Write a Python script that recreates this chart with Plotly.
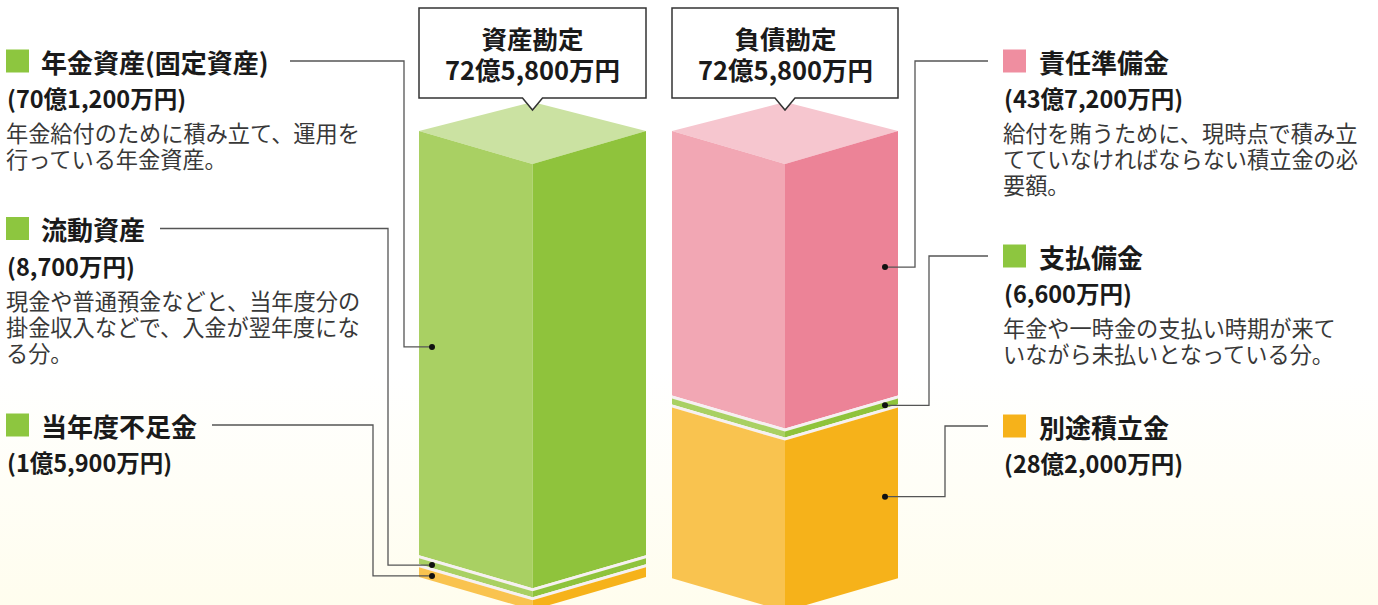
import plotly.graph_objects as go

# ---------------- data (億円) ----------------
column_titles = ["資産勘定", "負債勘定"]
column_totals = ["72億5,800万円", "72億5,800万円"]

asset_titles = ["年金資産(固定資産)", "流動資産", "当年度不足金"]
asset_amounts = ["(70億1,200万円)", "(8,700万円)", "(1億5,900万円)"]
asset_values = [70.12, 0.87, 1.59]
asset_notes = [
    ["年金給付のために積み立て、運用を", "行っている年金資産。"],
    ["現金や普通預金などと、当年度分の", "掛金収入などで、入金が翌年度にな", "る分。"],
    [],
]

liability_titles = ["責任準備金", "支払備金", "別途積立金"]
liability_amounts = ["(43億7,200万円)", "(6,600万円)", "(28億2,000万円)"]
liability_values = [43.72, 0.66, 28.20]
liability_notes = [
    ["給付を賄うために、現時点で積み立", "てていなければならない積立金の必", "要額。"],
    ["年金や一時金の支払い時期が来て", "いながら未払いとなっている分。"],
    [],
]

# ---------------- style / layout ----------------
W, H = 1378, 605
S = 6.05          # pixels per 億円
TOP = 164         # pixel y of the front-top vertex
FONT = "Noto Sans CJK JP"

GREEN = dict(top="#cbe2a2", left="#a9d063", right="#8fc33c")
PINK = dict(top="#f6c6cf", left="#f2a7b4", right="#ec8397")
ORANGE = dict(top="#fbd88a", left="#f9c34f", right="#f6b21a")
SEP = "#f6f0f2"
SQ_GREEN, SQ_PINK, SQ_ORANGE = "#8dc63f", "#ef8ea0", "#f6b21a"

asset_faces = [GREEN, GREEN, ORANGE]
liab_faces = [PINK, GREEN, ORANGE]
asset_sq = [SQ_GREEN, SQ_GREEN, SQ_GREEN]
liab_sq = [SQ_PINK, SQ_GREEN, SQ_ORANGE]

bars = [
    dict(cx=532.5, hw=113.5, values=asset_values, faces=asset_faces, side=-1),
    dict(cx=785.0, hw=113.0, values=liability_values, faces=liab_faces, side=1),
]
FRONT_DY = 33.0   # px rise from front edge to side edge
BACK_DY = 62.0    # px rise from front vertex to back vertex
MIN_SEG = 1.0     # minimum displayed thickness (億)
GAP = 0.5         # separator thickness (億)
DOT_INSET = 13.0  # px from the outer edge


def yd(p):
    return (p - TOP) / S


fig = go.Figure()

# background gradient
fig.add_trace(go.Scatter(
    x=[0, W, W, 0, 0], y=[yd(0), yd(0), yd(H), yd(H), yd(0)],
    mode="lines", line=dict(width=0), fill="toself",
    fillgradient=dict(type="vertical",
                      colorscale=[[0, "#fffdee"], [1, "#ffffff"]],
                      start=yd(H), stop=yd(370)),
    hoverinfo="skip", showlegend=False))


def poly(xs, ys, color):
    fig.add_trace(go.Scatter(
        x=xs + [xs[0]], y=ys + [ys[0]], mode="lines", line=dict(width=0),
        fill="toself", fillcolor=color, hoverinfo="skip", showlegend=False))


fd = FRONT_DY / S
bd = BACK_DY / S
dots = []  # per bar list of (x, y)
for bar in bars:
    cx, hw = bar["cx"], bar["hw"]
    xl, xr = cx - hw, cx + hw
    poly([xl, cx, xr, cx], [-fd, 0, -fd, -bd], bar["faces"][0]["top"])
    t = 0.0
    bar_dots = []
    n = len(bar["values"])
    for i, v in enumerate(bar["values"]):
        h = max(v, MIN_SEG)
        b = t + h
        f = bar["faces"][i]
        poly([xl, cx, cx, xl], [t - fd, t, b, b - fd], f["left"])
        poly([cx, xr, xr, cx], [t, t - fd, b - fd, b], f["right"])
        frac = 1 - DOT_INSET / hw
        dx = xl + DOT_INSET if bar["side"] < 0 else xr - DOT_INSET
        bar_dots.append((dx, (t + b) / 2 - fd * frac))
        if i < n - 1:
            t2 = b + GAP
            poly([xl, cx, xr, xr, cx, xl],
                 [b - fd, b, b - fd, t2 - fd, t2, t2 - fd], SEP)
            t = t2
    dots.append(bar_dots)

# ---------------- labels ----------------
shapes = []
annotations = []


def text(x, py, s, size, color="#1a1a1a", weight="normal", anchor="left",
         yanchor="middle", base=None):
    base = base or size
    annotations.append(dict(
        x=x, y=yd(py), xref="x", yref="y",
        text=f'<span style="font-size:{size}px">{s}</span>', showarrow=False,
        xanchor=anchor, yanchor=yanchor, align=anchor if anchor != "center" else "center",
        borderpad=0,
        font=dict(family=FONT, size=base, color=color, weight=weight)))


label_sets = [
    dict(titles=asset_titles, amounts=asset_amounts, notes=asset_notes, sq=asset_sq,
         x_sq=6, x_txt=40, ys=[61, 228.5, 425],
         line_start=[290, 160, 212], bend=[404, 388, 373]),
    dict(titles=liability_titles, amounts=liability_amounts, notes=liability_notes, sq=liab_sq,
         x_sq=1003, x_txt=1038, ys=[61, 256, 426],
         line_start=[988, 988, 988], bend=[915, 929, 945]),
]

NOTE_STEP = 26.0
for k, ls in enumerate(label_sets):
    for i, title in enumerate(ls["titles"]):
        y0 = ls["ys"][i]
        shapes.append(dict(type="rect", xref="x", yref="y",
                           x0=ls["x_sq"], x1=ls["x_sq"] + 23,
                           y0=yd(y0 - 11.5), y1=yd(y0 + 11.5),
                           fillcolor=ls["sq"][i], line=dict(width=0), layer="above"))
        text(ls["x_txt"], y0, title, 26, weight="bold")
        text(ls["x_sq"], y0 + 37, ls["amounts"][i], 23.5, weight="bold")
        notes = ls["notes"][i]
        if notes:
            nl = len(notes)
            mid = y0 + 71 + NOTE_STEP * (nl - 1) / 2
            text(ls["x_sq"] - 1, mid, "<br>".join(notes), 22.2, color="#383838",
                 base=NOTE_STEP / 1.3)
        dx, dy = dots[k][i]
        fig.add_trace(go.Scatter(
            x=[ls["line_start"][i], ls["bend"][i], ls["bend"][i], dx],
            y=[yd(y0), yd(y0), dy, dy], mode="lines",
            line=dict(color="#555555", width=1.3),
            hoverinfo="skip", showlegend=False))
    fig.add_trace(go.Scatter(
        x=[d[0] for d in dots[k]], y=[d[1] for d in dots[k]], mode="markers",
        marker=dict(color="#111111", size=6), hoverinfo="skip", showlegend=False))

# callout boxes
for bar, title, total in zip(bars, column_titles, column_totals):
    cx, hw = bar["cx"], bar["hw"]
    xl, xr = cx - hw, cx + hw
    pts = [(xl, 8), (xr, 8), (xr, 98), (cx + 10, 98), (cx, 110), (cx - 10, 98), (xl, 98)]
    path = "M " + " L ".join(f"{x},{yd(p)}" for x, p in pts) + " Z"
    shapes.append(dict(type="path", xref="x", yref="y", path=path,
                       fillcolor="white", line=dict(color="#333333", width=1.5),
                       layer="above"))
    text(cx, 52.5, f"{title}<br>{total}", 25.5, weight="bold", anchor="center", base=31 / 1.3)

fig.update_layout(
    width=W, height=H, margin=dict(l=0, r=0, t=0, b=0),
    paper_bgcolor="white", plot_bgcolor="white", showlegend=False,
    xaxis=dict(range=[0, W], visible=False, fixedrange=True),
    yaxis=dict(range=[yd(H), yd(0)], visible=False, fixedrange=True),
    shapes=shapes, annotations=annotations,
)

fig.write_html("out.html", config={"displayModeBar": False, "staticPlot": True},
               post_script="document.body.style.margin='0';document.body.style.overflow='hidden';")
